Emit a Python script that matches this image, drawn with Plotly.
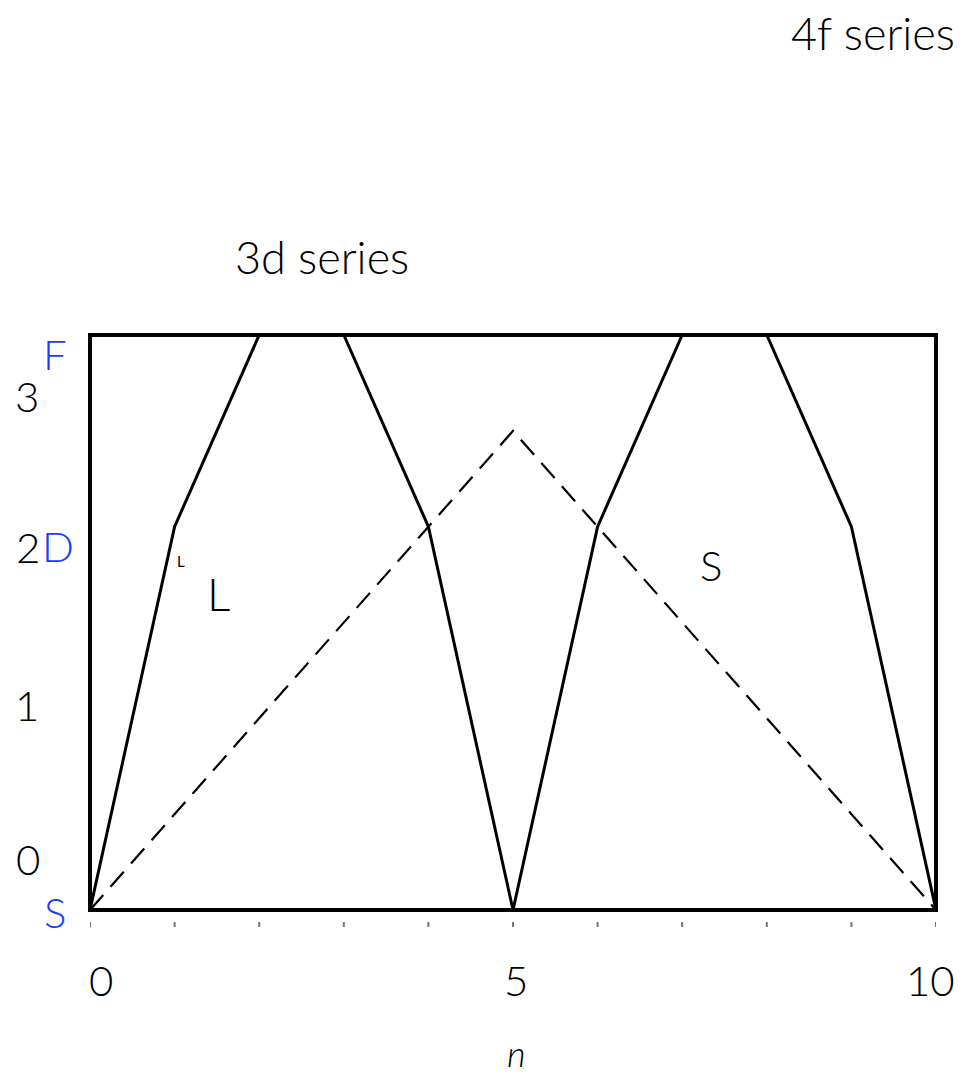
import plotly.graph_objects as go

# Quantum-defect style term diagram: n steps vs orbital level
n_vals = [0, 1, 2, 3, 4, 5, 6, 7, 8, 9, 10]
L_level = [0, 2, 3, 3, 2, 0, 2, 3, 3, 2, 0]
S_n = [0, 5, 10]
S_level = [0, 2.5, 0]

W, H = 965, 1075
ML, MR, MT, MB = 90, 29, 335, 165
PW, PH = W - ML - MR, H - MT - MB

def px(x):
    return (x - ML) / PW

def py(y):
    return (H - MB - y) / PH

FONT = "Lato"

fig = go.Figure()

fig.add_trace(go.Scatter(
    x=n_vals, y=L_level, mode="lines",
    line=dict(color="black", width=3),
    showlegend=False, hoverinfo="skip", cliponaxis=False,
))
fig.add_trace(go.Scatter(
    x=S_n, y=S_level, mode="lines",
    line=dict(color="black", width=2.2, dash="20px,11px"),
    showlegend=False, hoverinfo="skip", cliponaxis=False,
))

# small tick marks just under the frame, one per n step
for n in n_vals:
    fig.add_shape(type="line", xref="x", yref="paper",
                  x0=n, x1=n, y0=py(922), y1=py(927),
                  line=dict(color="#777", width=2))

# frame
fig.add_shape(type="rect", xref="paper", yref="paper", x0=0, x1=1, y0=0, y1=1,
              line=dict(color="black", width=4))

annots = [
    ("3d series", 322, 257, 45, "black", False, 300),
    ("4f series", 873, 33, 45, "black", False, 300),
    ("L", 218, 593, 46, "black", False, 300),
    ("S", 711, 565, 42, "black", False, 300),
    ("L", 181, 561, 15, "black", False, 400),
    ("3", 27, 396, 42, "black", False, 300),
    ("2", 28, 547, 42, "black", False, 300),
    ("1", 27, 705, 42, "black", False, 300),
    ("0", 28, 859, 42, "black", False, 300),
    ("F", 55, 354, 42, "#1a3aff", False, 300),
    ("D", 58, 546, 42, "#1a3aff", False, 300),
    ("S", 55, 912, 42, "#1a3aff", False, 300),
    ("0", 101, 980, 42, "black", False, 300),
    ("5", 516, 980, 42, "black", False, 300),
    ("10", 930, 980, 42, "black", False, 300),
    ("n", 516, 1053, 36, "black", True, 300),
]
for txt, x, y, size, color, italic, weight in annots:
    fig.add_annotation(
        text=f"<i>{txt}</i>" if italic else txt,
        xref="paper", yref="paper", x=px(x), y=py(y),
        xanchor="center", yanchor="middle", showarrow=False,
        font=dict(family=FONT, size=size, color=color, weight=weight),
    )

fig.update_xaxes(range=[0, 10], visible=False)
fig.update_yaxes(range=[0, 3], visible=False)
fig.update_layout(
    width=W, height=H,
    margin=dict(l=ML, r=MR, t=MT, b=MB),
    plot_bgcolor="white", paper_bgcolor="white",
)

fig.write_html("out.html")
